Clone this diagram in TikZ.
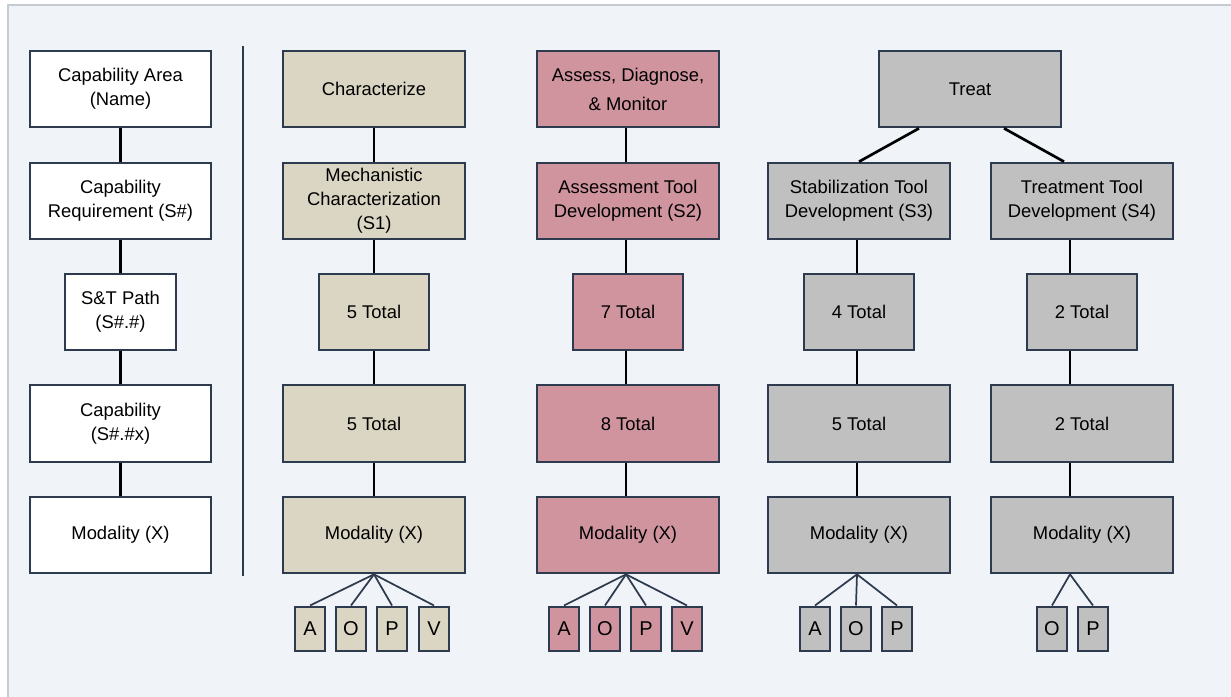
\documentclass[tikz,border=0pt]{standalone}
\usepackage{fontspec}
\setmainfont{Liberation Sans}
\definecolor{bgc}{HTML}{F0F3F7}
\definecolor{framec}{HTML}{C5CAD3}
\definecolor{edgec}{HTML}{2E3A4E}
\definecolor{tanc}{HTML}{DBD6C3}
\definecolor{rosec}{HTML}{D0949F}
\definecolor{greyc}{HTML}{C0C0C0}
\begin{document}
\begin{tikzpicture}[x=0.75pt,y=-0.75pt,
 box/.style={draw=edgec, line width=1.5pt, inner sep=2pt, align=center,
   font=\fontsize{13.8pt}{18pt}\selectfont, minimum height=57.5pt},
 wide/.style={box, minimum width=136pt},
 narrow/.style={box, minimum width=83pt},
 mini/.style={draw=edgec, line width=1.5pt, inner sep=0pt, minimum width=23pt,
   minimum height=33pt, font=\fontsize{15pt}{17pt}\selectfont},
 link/.style={line width=2pt, black},
 thinlink/.style={line width=1.3pt, edgec}]
\useasboundingbox (0,0) rectangle (1231,696);
\fill[white] (0,0) rectangle (1231,696);
\filldraw[fill=bgc, draw=framec, line width=1.5pt] (7.5,4.5) rectangle (1240,705);
% separator
\draw[edgec, line width=1.3pt] (243,46) -- (243,576);

% left legend column
\node[wide, fill=white] (l1) at (120.5,89) {Capability Area\\(Name)};
\node[wide, fill=white] (l2) at (120.5,201) {Capability\\Requirement (S\#)};
\node[narrow, fill=white] (l3) at (120.5,312) {S\&T Path\\(S\#.\#)};
\node[wide, fill=white] (l4) at (120.5,423.5) {Capability\\(S\#.\#x)};
\node[wide, fill=white] (l5) at (120.5,535) {Modality (X)};
\foreach \a/\b in {l1/l2,l2/l3,l3/l4,l4/l5} \draw[link] (\a) -- (\b);

% column 1
\node[wide, fill=tanc] (a1) at (374,89) {Characterize};
\node[wide, fill=tanc] (a2) at (374,201) {Mechanistic\\Characterization\\(S1)};
\node[narrow, fill=tanc] (a3) at (374,312) {5 Total};
\node[wide, fill=tanc] (a4) at (374,423.5) {5 Total};
\node[wide, fill=tanc] (a5) at (374,535) {Modality (X)};
\foreach \a/\b in {a1/a2,a2/a3,a3/a4,a4/a5} \draw[link] (\a) -- (\b);
\node[mini, fill=tanc] (aA) at (310,628.5) {A};
\node[mini, fill=tanc] (aO) at (351,628.5) {O};
\node[mini, fill=tanc] (aP) at (392,628.5) {P};
\node[mini, fill=tanc] (aV) at (434,628.5) {V};
\foreach \m in {aA,aO,aP,aV} \draw[thinlink] (a5.south) -- (\m.north);

% column 2
\node[wide, fill=rosec, font=\fontsize{13.8pt}{21.75pt}\selectfont] (b1) at (628,89) {Assess, Diagnose,\\\& Monitor};
\node[wide, fill=rosec] (b2) at (628,201) {Assessment Tool\\Development (S2)};
\node[narrow, fill=rosec] (b3) at (628,312) {7 Total};
\node[wide, fill=rosec] (b4) at (628,423.5) {8 Total};
\node[wide, fill=rosec] (b5) at (628,535) {Modality (X)};
\foreach \a/\b in {b1/b2,b2/b3,b3/b4,b4/b5} \draw[link] ([xshift=-1.5pt]\a.south) -- ([xshift=-1.5pt]\b.north);
\node[mini, fill=rosec] (bA) at (564,628.5) {A};
\node[mini, fill=rosec] (bO) at (605,628.5) {O};
\node[mini, fill=rosec] (bP) at (646,628.5) {P};
\node[mini, fill=rosec] (bV) at (687,628.5) {V};
\foreach \m in {bA,bO,bP,bV} \draw[thinlink] ([xshift=-1.5pt]b5.south) -- (\m.north);

% treat
\node[wide, fill=greyc] (t0) at (970,89) {Treat};
\node[wide, fill=greyc] (c2) at (859,201) {Stabilization Tool\\Development (S3)};
\node[wide, fill=greyc] (d2) at (1082,201) {Treatment Tool\\Development (S4)};
\draw[link] ([xshift=-38.25pt]t0.south) -- (c2.north);
\draw[link] ([xshift=25.5pt]t0.south) -- ([xshift=-13.5pt]d2.north);

% column 3
\node[narrow, fill=greyc] (c3) at (859,312) {4 Total};
\node[wide, fill=greyc] (c4) at (859,423.5) {5 Total};
\node[wide, fill=greyc] (c5) at (859,535) {Modality (X)};
\foreach \a/\b in {c2/c3,c3/c4,c4/c5} \draw[link] ([xshift=-1.5pt]\a.south) -- ([xshift=-1.5pt]\b.north);
\node[mini, fill=greyc] (cA) at (815,628.5) {A};
\node[mini, fill=greyc] (cO) at (856,628.5) {O};
\node[mini, fill=greyc] (cP) at (897,628.5) {P};
\foreach \m in {cA,cO,cP} \draw[thinlink] ([xshift=-1.5pt]c5.south) -- (\m.north);

% column 4
\node[narrow, fill=greyc] (d3) at (1082,312) {2 Total};
\node[wide, fill=greyc] (d4) at (1082,423.5) {2 Total};
\node[wide, fill=greyc] (d5) at (1082,535) {Modality (X)};
\foreach \a/\b in {d2/d3,d3/d4,d4/d5} \draw[link] ([xshift=-9pt]\a.south) -- ([xshift=-9pt]\b.north);
\node[mini, fill=greyc] (dO) at (1052,628.5) {O};
\node[mini, fill=greyc] (dP) at (1093,628.5) {P};
\foreach \m in {dO,dP} \draw[thinlink] ([xshift=-9pt]d5.south) -- (\m.north);
\end{tikzpicture}
\end{document}
